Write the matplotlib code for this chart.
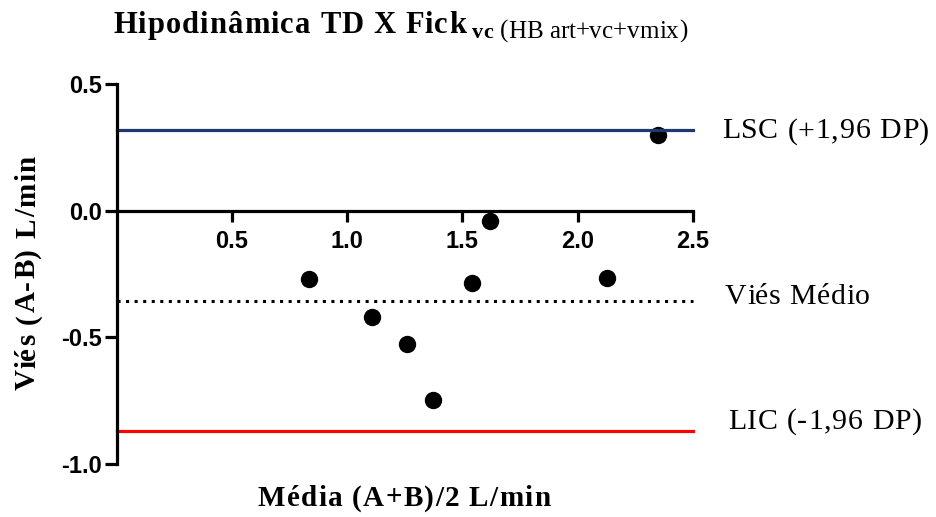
import matplotlib
matplotlib.use("Agg")
import matplotlib.pyplot as plt
from matplotlib.transforms import IdentityTransform

# data
mean_ab = [0.836, 1.106, 1.261, 1.374, 1.540, 1.620, 2.129, 2.350]
diff_ab = [-0.268, -0.419, -0.526, -0.747, -0.284, -0.042, -0.264, 0.298]
upper_loa = 0.317
bias = -0.355
lower_loa = -0.869
xticks = [0.5, 1.0, 1.5, 2.0, 2.5]
yticks = [-1.0, -0.5, 0.0, 0.5]
line_labels = ["LSC (+1,96 DP)", "Viés Médio", "LIC (-1,96 DP)"]

W, H = 936, 517
fig = plt.figure(figsize=(W / 100, H / 100), dpi=100)
l, r, b, t = 116.8, 692.7, 464, 84
ax = fig.add_axes([l / W, (H - b) / H, (r - l) / W, (b - t) / H])
ax.set_xlim(0, 2.5)
ax.set_ylim(-1.0, 0.5)

ax.scatter(mean_ab, diff_ab, s=11.5 ** 2, color="black", zorder=3, clip_on=False)
ax.plot([0, 2.5], [upper_loa, upper_loa], color="#1f3870", lw=2.3, zorder=4, clip_on=False)
ax.plot([0, 2.5], [lower_loa, lower_loa], color="#ff0000", lw=2.3, zorder=4, clip_on=False)
ax.plot([0, 2.5], [bias, bias], color="black", lw=2.2, ls=(0, (1, 1.8)), zorder=4, clip_on=False)

for s in ["top", "right"]:
    ax.spines[s].set_visible(False)
ax.spines["bottom"].set_position(("data", 0))
ax.spines["bottom"].set_bounds(0, 2.5)
ax.spines["left"].set_bounds(-1.0, 0.5)
for s in ["bottom", "left"]:
    ax.spines[s].set_linewidth(2.3)
    ax.spines[s].set_zorder(5)

ax.set_xticks(xticks)
ax.set_yticks(yticks)
ax.set_xticklabels([f"{v:.1f}" for v in xticks])
ax.set_yticklabels([f"{v:.1f}" for v in yticks])
fp = matplotlib.font_manager.FontProperties(family="Liberation Sans", weight="bold", size=17)
for lab in ax.get_xticklabels() + ax.get_yticklabels():
    lab.set_fontproperties(fp)
ax.tick_params(axis="x", direction="out", length=8, width=2.3, pad=6)
ax.tick_params(axis="y", direction="out", length=8.5, width=2.3, pad=2)

fig.canvas.draw()
renderer = fig.canvas.get_renderer()
serif = "Liberation Serif"


def width_of(s, **kw):
    if not s:
        return 0.0
    tt = fig.text(0, 0, s + "I", transform=IdentityTransform(), **kw)
    ti = fig.text(0, 0, "I", transform=IdentityTransform(), **kw)
    w = tt.get_window_extent(renderer).width - ti.get_window_extent(renderer).width
    tt.remove()
    ti.remove()
    return w


def spaced(x, y, s, sp, align="left", vertical=False, va="baseline", **kw):
    """Draw string s letter by letter (pixel coords), adding sp pixels between letters."""
    pos = [width_of(s[:i], **kw) + i * sp for i in range(len(s))]
    total = width_of(s, **kw) + (len(s) - 1) * sp
    start = x if not vertical else y
    if align == "center":
        start -= total / 2
    for ch, p in zip(s, pos):
        if ch == " ":
            continue
        if vertical:
            fig.text(x, start + p, ch, transform=IdentityTransform(), rotation=90,
                     rotation_mode="anchor", ha="left", va=va, **kw)
        else:
            fig.text(start + p, y, ch, transform=IdentityTransform(), ha="left", va=va, **kw)
    return start + total


# line labels (anchored to the lines' data positions)
for txt, yv, dx, dy in zip(line_labels, [upper_loa, bias, lower_loa], [29, 32, 35], [-1, 4, 9]):
    px, py = ax.transData.transform((2.5, yv))
    spaced(px + dx, py + dy, txt, 0.8, va="center", fontsize=21.5, family=serif)

# axis labels
spaced(404, H - 498, "Média (A+B)/2 L/min", 1.3, align="center", va="center",
       fontsize=21, family=serif, weight="bold")
spaced(35, H - 273, "Viés (A-B) L/min", 1.5, align="center", vertical=True, va="baseline",
       fontsize=21, family=serif, weight="bold")

# title in pieces
end1 = spaced(113, H - 33, "Hipodinâmica TD X Fick", 1.1, fontsize=22, family=serif, weight="bold")
end2 = spaced(end1 + 6, H - 38, "vc", 0.5, fontsize=16, family=serif, weight="bold")
spaced(end2 + 6, H - 38, "(HB art+vc+vmix)", 0.0, fontsize=18, family=serif)

fig.savefig("out.png", dpi=100)
